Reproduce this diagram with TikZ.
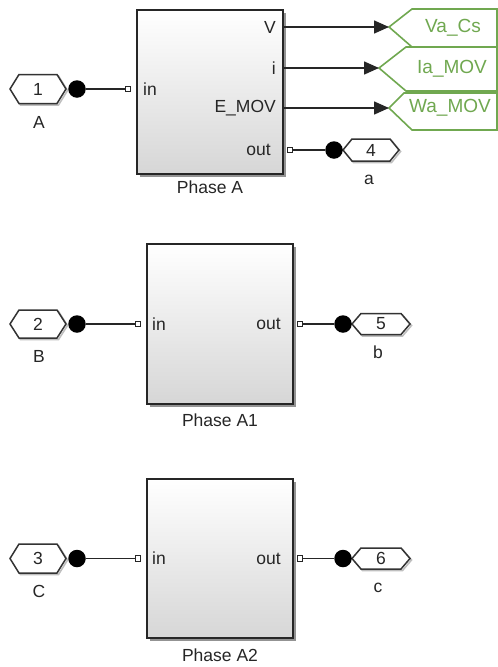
\documentclass[tikz,border=0pt]{standalone}
\usepackage{fontspec}
\setmainfont{Liberation Sans}
\usetikzlibrary{arrows.meta,shadows,calc}
\definecolor{gotogreen}{RGB}{112,168,80}
\newcommand{\hexport}[4]{% left x, right x, centre y, half height
  \draw[hexshadow] ($(#1,#3)+(1.5,1.5)$) -- ($(#1+9,#3-#4)+(1.5,1.5)$) -- ($(#2-9,#3-#4)+(1.5,1.5)$) -- ($(#2,#3)+(1.5,1.5)$) -- ($(#2-9,#3+#4)+(1.5,1.5)$) -- ($(#1+9,#3+#4)+(1.5,1.5)$) -- cycle;
  \draw[hexsty] (#1,#3) -- (#1+9,#3-#4) -- (#2-9,#3-#4) -- (#2,#3) -- (#2-9,#3+#4) -- (#1+9,#3+#4) -- cycle;}
\begin{document}
\begin{tikzpicture}[x=1pt,y=-1pt,
  lbl/.style={font=\fontsize{17.5}{19}\selectfont, inner sep=0pt, text=black!85},
  glbl/.style={font=\fontsize{19}{21}\selectfont, inner sep=0pt, text=gotogreen},
  blk/.style={draw=black!85, line width=1.8pt, top color=white, middle color=white, bottom color=black!16,
    drop shadow={shadow xshift=2.5pt, shadow yshift=-2.5pt, fill=black!60, opacity=0.7},
    inner sep=0pt},
  psq/.style={draw=black!85, fill=white, line width=1.1pt, minimum size=5.5pt, inner sep=0pt},
  dotn/.style={circle, fill=black, minimum size=17.5pt, inner sep=0pt},
  wire/.style={draw=black!85, line width=1.5pt},
  sig/.style={draw=black!85, line width=1.5pt, -{Triangle[length=15pt,width=13pt]}},
  hexsty/.style={draw=black!80, line width=1.5pt, fill=white},
  hexshadow/.style={draw=black!25, line width=1.6pt},
  gotosty/.style={draw=gotogreen, line width=1.6pt}]
\useasboundingbox (0,0) rectangle (498,667);
\fill[white] (0,0) rectangle (498,667);

% ---------- blocks ----------
\node[blk, minimum width=146pt, minimum height=164pt] (PA) at (210,92) {};
\node[blk, minimum width=146pt, minimum height=160pt] (PB) at (220,324) {};
\node[blk, minimum width=146pt, minimum height=159pt] (PC) at (220,558.5) {};
\node[lbl] (labPA) at (210,187) {Phase A};
\node[lbl] (labPB) at (220,420) {Phase A1};
\node[lbl] (labPC) at (220,655) {Phase A2};

% port labels
\node[lbl, anchor=west] (tinA) at (143,89) {in};
\node[lbl, anchor=east] (tV) at (276,27) {V};
\node[lbl, anchor=east] (ti) at (276,68) {i};
\node[lbl, anchor=east] (tE) at (276,108) {E\_MOV};
\node[lbl, anchor=east] (toutA) at (271,150) {out};
\node[lbl, anchor=west] (tinB) at (152,324) {in};
\node[lbl, anchor=east] (toutB) at (281,324) {out};
\node[lbl, anchor=west] (tinC) at (152,558.5) {in};
\node[lbl, anchor=east] (toutC) at (281,558.5) {out};

% ---------- inports ----------
\hexport{10}{66}{89}{14.5}
\hexport{10}{66}{324}{14}
\hexport{10}{66}{558.5}{14.5}
\node[lbl] (n1) at (38,89) {1};
\node[lbl] (n2) at (38,324) {2};
\node[lbl] (n3) at (38,558.5) {3};
\node[lbl] (lA) at (39,122) {A};
\node[lbl] (lB) at (39,356) {B};
\node[lbl] (lC) at (39,591) {C};

% ---------- outports ----------
\hexport{343}{399}{150}{11}
\hexport{352}{410}{324}{10.5}
\hexport{352}{410}{558.5}{10.5}
\node[lbl] (n4) at (371,150) {4};
\node[lbl] (n5) at (381,324) {5};
\node[lbl] (n6) at (381,558.5) {6};
\node[lbl] (la) at (369,180) {a};
\node[lbl] (lb) at (378,352) {b};
\node[lbl] (lc) at (378,588) {c};

% ---------- connection dots and port squares ----------
\node[dotn] (dA) at (77,89) {};
\node[dotn] (dB) at (77,324) {};
\node[dotn] (dC) at (77,558.5) {};
\node[psq] (pAin) at (128,89) {};
\node[psq] (pBin) at (138,324) {};
\node[psq] (pCin) at (138,558.5) {};
\node[psq] (pAout) at (290,150) {};
\node[psq] (pBout) at (300,324) {};
\node[psq] (pCout) at (300,558.5) {};
\node[dotn] (da) at (334,150) {};
\node[dotn] (db) at (343,324) {};
\node[dotn] (dc) at (343,558.5) {};

\draw[wire] (dA) -- (pAin);
\draw[wire] (dB) -- (pBin);
\draw[wire] (dC) -- (pCin);
\draw[wire] (pAout) -- (da);
\draw[wire] (pBout) -- (db);
\draw[wire] (pCout) -- (dc);

% ---------- goto tags ----------
\coordinate (VaT) at (389,27);
\coordinate (IaT) at (379,68);
\coordinate (WaT) at (389,108);
\draw[gotosty] (VaT) -- (412,9) -- (497,9) -- (497,47) -- (412,47) -- cycle;
\draw[gotosty] (IaT) -- (406,47) -- (497,47) -- (497,91) -- (406,91) -- cycle;
\draw[gotosty] (WaT) -- (404,93) -- (497,93) -- (497,130) -- (412,130) -- cycle;
\node[glbl] (gVa) at (453,28) {Va\_Cs};
\node[glbl] (gIa) at (452,69) {Ia\_MOV};
\node[glbl] (gWa) at (450,108) {Wa\_MOV};

\coordinate (oV) at (PA.east |- VaT);
\coordinate (oi) at (PA.east |- IaT);
\coordinate (oE) at (PA.east |- WaT);
\draw[sig] (oV) -- (VaT);
\draw[sig] (oi) -- (IaT);
\draw[sig] (oE) -- (WaT);
\end{tikzpicture}
\end{document}
